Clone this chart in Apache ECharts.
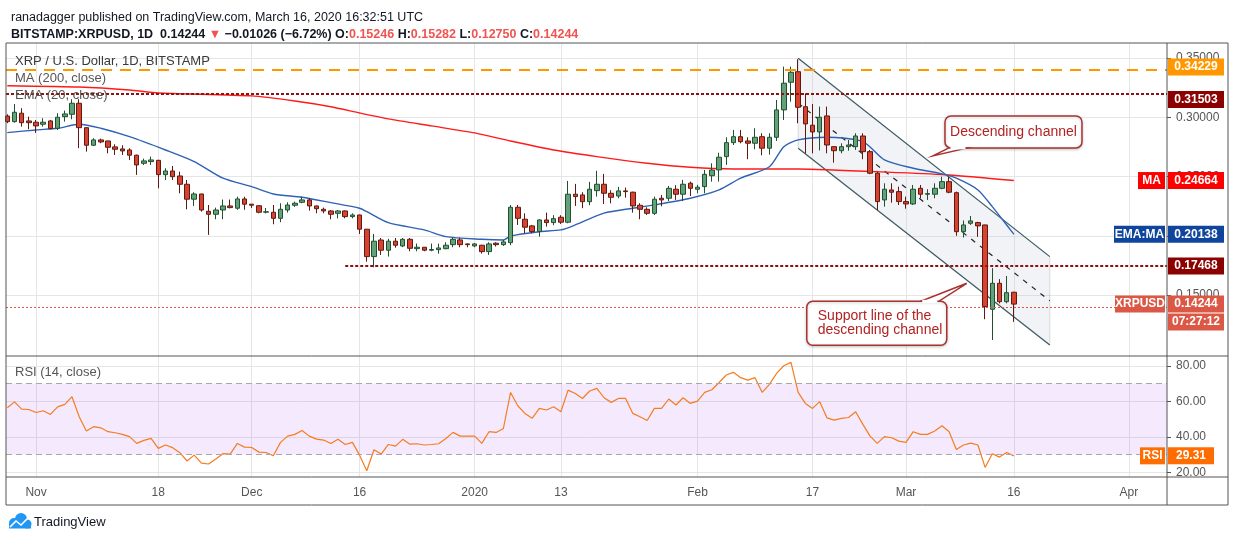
<!DOCTYPE html>
<html lang="en">
<head>
<meta charset="UTF-8">
<title>XRP / U.S. Dollar, 1D, BITSTAMP</title>
<script src="https://cdn.jsdelivr.net/npm/echarts@6.0.0/dist/echarts.min.js"></script>
<style>
  html, body { margin: 0; padding: 0; background: #fff; }
  #chart { width: 1234px; height: 541px; }
</style>
</head>
<body>
<div id="chart"></div>
<script>
// day 0 = 2019-10-28, one candle per day, day 140 = 2020-03-16
// [open, high, low, close]
var ohlc = [
  [0.3010, 0.3025, 0.2950, 0.2963], [0.2963, 0.3112, 0.2954, 0.3042], [0.3034, 0.3076, 0.2921, 0.2954],
  [0.2969, 0.3005, 0.2899, 0.2954], [0.2958, 0.2977, 0.2868, 0.2927], [0.2941, 0.2992, 0.2921, 0.2958],
  [0.2969, 0.2977, 0.2899, 0.2904], [0.2907, 0.3034, 0.2893, 0.3000], [0.3005, 0.3056, 0.2963, 0.3028],
  [0.3025, 0.3152, 0.2983, 0.3118], [0.3118, 0.3152, 0.2739, 0.2912], [0.2912, 0.2915, 0.2710, 0.2764],
  [0.2764, 0.2823, 0.2757, 0.2809], [0.2809, 0.2820, 0.2781, 0.2792], [0.2800, 0.2802, 0.2696, 0.2747],
  [0.2750, 0.2772, 0.2682, 0.2730], [0.2733, 0.2764, 0.2682, 0.2716], [0.2724, 0.2739, 0.2640, 0.2680],
  [0.2680, 0.2685, 0.2514, 0.2598], [0.2612, 0.2651, 0.2598, 0.2632], [0.2626, 0.2668, 0.2598, 0.2640],
  [0.2637, 0.2640, 0.2401, 0.2516], [0.2516, 0.2570, 0.2471, 0.2547], [0.2547, 0.2589, 0.2471, 0.2499],
  [0.2505, 0.2541, 0.2359, 0.2435], [0.2435, 0.2471, 0.2224, 0.2309], [0.2309, 0.2368, 0.2252, 0.2353],
  [0.2353, 0.2355, 0.2204, 0.2218], [0.2207, 0.2260, 0.2008, 0.2182], [0.2182, 0.2238, 0.2140, 0.2218],
  [0.2218, 0.2306, 0.2140, 0.2252], [0.2252, 0.2306, 0.2232, 0.2238], [0.2233, 0.2330, 0.2220, 0.2311],
  [0.2311, 0.2330, 0.2220, 0.2267], [0.2267, 0.2268, 0.2235, 0.2258], [0.2254, 0.2258, 0.2190, 0.2199],
  [0.2200, 0.2235, 0.2190, 0.2203], [0.2199, 0.2260, 0.2098, 0.2148], [0.2148, 0.2275, 0.2115, 0.2224],
  [0.2218, 0.2283, 0.2196, 0.2260], [0.2258, 0.2289, 0.2244, 0.2275], [0.2283, 0.2331, 0.2275, 0.2303],
  [0.2303, 0.2317, 0.2213, 0.2252], [0.2252, 0.2255, 0.2190, 0.2229], [0.2224, 0.2238, 0.2190, 0.2210],
  [0.2210, 0.2218, 0.2140, 0.2182], [0.2190, 0.2218, 0.2148, 0.2210], [0.2210, 0.2215, 0.2148, 0.2162],
  [0.2162, 0.2190, 0.2148, 0.2176], [0.2176, 0.2178, 0.2016, 0.2056], [0.2056, 0.2058, 0.1782, 0.1825],
  [0.1825, 0.2016, 0.1735, 0.1955], [0.1965, 0.1982, 0.1839, 0.1879], [0.1879, 0.1975, 0.1825, 0.1955],
  [0.1955, 0.1982, 0.1900, 0.1921], [0.1915, 0.1982, 0.1905, 0.1971], [0.1971, 0.1982, 0.1870, 0.1895],
  [0.1892, 0.1935, 0.1870, 0.1904], [0.1904, 0.1906, 0.1870, 0.1879], [0.1879, 0.1935, 0.1870, 0.1885],
  [0.1884, 0.1935, 0.1850, 0.1898], [0.1892, 0.1946, 0.1887, 0.1921], [0.1926, 0.1985, 0.1904, 0.1971],
  [0.1966, 0.1985, 0.1904, 0.1926], [0.1932, 0.1935, 0.1904, 0.1926], [0.1915, 0.1940, 0.1904, 0.1932],
  [0.1921, 0.1924, 0.1850, 0.1867], [0.1867, 0.1946, 0.1839, 0.1932], [0.1938, 0.1946, 0.1910, 0.1926],
  [0.1926, 0.1966, 0.1915, 0.1949], [0.1943, 0.2260, 0.1921, 0.2241], [0.2241, 0.2260, 0.2092, 0.2148],
  [0.2140, 0.2190, 0.2022, 0.2073], [0.2084, 0.2092, 0.2022, 0.2036], [0.2036, 0.2140, 0.1993, 0.2134],
  [0.2134, 0.2196, 0.2078, 0.2112], [0.2112, 0.2174, 0.2090, 0.2145], [0.2157, 0.2174, 0.2100, 0.2115],
  [0.2115, 0.2463, 0.2106, 0.2351], [0.2351, 0.2438, 0.2252, 0.2331], [0.2345, 0.2368, 0.2233, 0.2288],
  [0.2288, 0.2455, 0.2258, 0.2393], [0.2381, 0.2548, 0.2331, 0.2435], [0.2435, 0.2522, 0.2269, 0.2359],
  [0.2359, 0.2385, 0.2274, 0.2325], [0.2336, 0.2413, 0.2317, 0.2379], [0.2379, 0.2407, 0.2322, 0.2373],
  [0.2368, 0.2373, 0.2196, 0.2252], [0.2258, 0.2275, 0.2140, 0.2224], [0.2224, 0.2241, 0.2176, 0.2190],
  [0.2190, 0.2331, 0.2176, 0.2309], [0.2317, 0.2345, 0.2249, 0.2303], [0.2317, 0.2421, 0.2294, 0.2401],
  [0.2393, 0.2427, 0.2303, 0.2351], [0.2351, 0.2472, 0.2294, 0.2435], [0.2444, 0.2458, 0.2336, 0.2401],
  [0.2393, 0.2430, 0.2359, 0.2410], [0.2415, 0.2556, 0.2359, 0.2519], [0.2507, 0.2612, 0.2457, 0.2555],
  [0.2556, 0.2701, 0.2457, 0.2663], [0.2668, 0.2831, 0.2598, 0.2786], [0.2786, 0.2893, 0.2766, 0.2836],
  [0.2836, 0.2893, 0.2780, 0.2794], [0.2800, 0.2831, 0.2646, 0.2781], [0.2781, 0.2907, 0.2730, 0.2831],
  [0.2836, 0.2865, 0.2679, 0.2739], [0.2739, 0.2865, 0.2685, 0.2831], [0.2831, 0.3146, 0.2800, 0.3062],
  [0.3062, 0.3427, 0.2977, 0.3287], [0.3295, 0.3427, 0.3131, 0.3379], [0.3384, 0.3489, 0.2949, 0.3084],
  [0.3089, 0.3202, 0.2696, 0.2944], [0.2933, 0.3112, 0.2696, 0.2876], [0.2876, 0.3090, 0.2720, 0.3000],
  [0.3011, 0.3090, 0.2696, 0.2766], [0.2752, 0.2755, 0.2617, 0.2718], [0.2718, 0.2780, 0.2696, 0.2752],
  [0.2752, 0.2808, 0.2718, 0.2766], [0.2752, 0.2865, 0.2724, 0.2842], [0.2842, 0.2865, 0.2646, 0.2710],
  [0.2710, 0.2724, 0.2520, 0.2528], [0.2528, 0.2541, 0.2218, 0.2289], [0.2303, 0.2443, 0.2246, 0.2393],
  [0.2387, 0.2443, 0.2280, 0.2368], [0.2373, 0.2415, 0.2260, 0.2289], [0.2289, 0.2331, 0.2229, 0.2269],
  [0.2269, 0.2429, 0.2260, 0.2393], [0.2401, 0.2429, 0.2317, 0.2351], [0.2351, 0.2393, 0.2303, 0.2356],
  [0.2351, 0.2443, 0.2317, 0.2401], [0.2401, 0.2499, 0.2393, 0.2457], [0.2457, 0.2499, 0.2359, 0.2368],
  [0.2364, 0.2373, 0.2000, 0.2035], [0.2035, 0.2130, 0.1986, 0.2092], [0.2106, 0.2168, 0.2092, 0.2126],
  [0.2112, 0.2118, 0.1992, 0.2084], [0.2092, 0.2094, 0.1297, 0.1403], [0.1381, 0.1727, 0.1122, 0.1600],
  [0.1600, 0.1635, 0.1431, 0.1445], [0.1445, 0.1662, 0.1431, 0.1521], [0.15246, 0.15282, 0.12750, 0.14244]
];

var rsiValues = [
  56.4, 59.7, 55.6, 55.4, 53.7, 54.7, 52.6, 56.9, 58.3, 62.6,
  51.3, 43.3, 45.7, 45.1, 42.9, 42.3, 41.4, 40.1, 36.3, 38.0,
  39.1, 33.5, 35.4, 33.9, 31.1, 26.4, 29.7, 25.2, 24.7, 27.5,
  30.5, 30.3, 36.3, 34.2, 34.0, 31.4, 31.2, 29.4, 36.9, 40.4,
  41.4, 43.6, 40.4, 38.7, 38.2, 36.3, 38.7, 35.7, 36.9, 29.7,
  20.9, 32.7, 30.3, 35.7, 34.8, 38.6, 35.9, 36.1, 35.4, 35.7,
  36.1, 39.1, 42.5, 40.4, 40.4, 40.4, 36.3, 42.9, 42.5, 44.7,
  65.0, 57.5, 53.2, 50.4, 56.0, 55.1, 56.9, 54.1, 66.3, 64.4,
  61.6, 65.8, 67.3, 62.0, 59.4, 61.6, 61.6, 53.2, 51.3, 49.2,
  56.0, 56.0, 61.3, 57.9, 62.0, 58.8, 60.1, 65.0, 66.5, 70.6,
  74.8, 76.3, 73.3, 71.9, 73.3, 65.0, 69.5, 75.7, 80.0, 81.9,
  65.0, 58.8, 56.0, 59.8, 50.7, 49.4, 50.4, 50.9, 54.1, 47.0,
  40.4, 36.3, 40.1, 39.5, 37.6, 36.9, 42.9, 41.4, 41.4, 43.3,
  46.2, 42.9, 32.9, 35.4, 36.5, 35.4, 22.8, 30.5, 28.6, 31.2,
  29.31
];

// MA (200) and EMA (20) at sample days
var maDays   = [0, 10, 17, 21, 34, 40, 45, 49, 53, 59, 65, 70, 76, 82, 89, 95, 101, 110, 124, 131, 140];
var maValues = [0.3266, 0.3255, 0.3230, 0.3205, 0.3180, 0.3137, 0.3089, 0.3036, 0.2986, 0.2927, 0.2868,
                0.2800, 0.2724, 0.2668, 0.2612, 0.2578, 0.2564, 0.2564, 0.2533, 0.2513, 0.24664];
var emaDays   = [0, 4, 7, 10, 13, 17, 22, 26, 30, 34, 37, 41, 45, 49, 50, 53, 58, 61, 66, 69, 70, 74, 77,
                 79, 83, 87, 90, 95, 99, 102, 106, 108, 110, 114, 119, 122, 126, 130, 132, 135, 137, 140];
var emaValues = [0.2870, 0.2893, 0.2907, 0.2941, 0.2907, 0.2836, 0.2724, 0.2626, 0.2486, 0.2415, 0.2353,
                 0.2325, 0.2280, 0.2233, 0.2204, 0.2111, 0.2050, 0.1993, 0.1971, 0.1965, 0.1999, 0.2035,
                 0.2050, 0.2092, 0.2191, 0.2233, 0.2261, 0.2317, 0.2387, 0.2486, 0.2583, 0.2752, 0.2809,
                 0.2831, 0.2794, 0.2640, 0.2570, 0.2522, 0.2486, 0.2387, 0.2246, 0.20138];

var tickDays   = [4, 21, 34, 49, 65, 77, 96, 112, 125, 140, 156];
var tickLabels = ['Nov', '18', 'Dec', '16', '2020', '13', 'Feb', '17', 'Mar', '16', 'Apr'];
var priceTicks = [0.15, 0.20, 0.25, 0.30, 0.35];
var rsiTicks   = [20, 40, 60, 80];

// horizontal levels
var highLevel = 0.34229;
var resistLevel = 0.31503;
var supportLevel = 0.17468;
var supportStartDay = 47;
var lastClose = 0.14244;
var maLast = 0.24664;
var emaLast = 0.20138;
var rsiLast = 29.31;

// descending channel: [start day, end day], upper and lower prices
var channelDays = [110, 145];
var channelUpper = [0.3497, 0.1825];
var channelLower = [0.2739, 0.1080];

var FONT = '"Liberation Sans", Arial, sans-serif';
var X_MIN = -0.18, X_MAX = 161.3;
var P_MIN = 0.0987, P_MAX = 0.3626;
var R_MIN = 17.4, R_MAX = 85.5;
var GRID_L = 6, GRID_W = 1161, AXIS_X = 1167, FRAME_R = 1228;
var MAIN_T = 43, MAIN_H = 313, RSI_T = 356, RSI_H = 121, FRAME_B = 505;

var candleData = ohlc.map(function (r, i) { return [i, r[0], r[3], r[2], r[1]]; });
var rsiData = rsiValues.map(function (v, i) { return [i, v]; });
var maData = maDays.map(function (d, i) { return [d, maValues[i]]; });
var emaData = emaDays.map(function (d, i) { return [d, emaValues[i]]; });

function tag(value, text, color, w, side, dy) {
  return {
    coord: [X_MAX, value],
    symbol: 'rect',
    symbolSize: [w, 17],
    symbolOffset: [side > 0 ? w / 2 + 1 : -(w / 2 + 2), dy || 0],
    itemStyle: { color: color },
    label: {
      show: true, position: 'inside', formatter: text, color: '#fff',
      fontWeight: 'bold', fontSize: 12, fontFamily: FONT
    }
  };
}

function hline(value, color, width, dash) {
  return { yAxis: value, lineStyle: { color: color, width: width, type: dash } };
}

var gridLine = { show: true, lineStyle: { color: '#e6e6e6', width: 1 } };
var tickLabel = { color: '#555', fontSize: 12, fontFamily: FONT };

var option = {
  animation: false,
  backgroundColor: '#fff',
  textStyle: { fontFamily: FONT },
  title: [
    {
      text: 'ranadagger published on TradingView.com, March 16, 2020 16:32:51 UTC',
      left: 6, top: 6,
      textStyle: { fontSize: 12.5, fontWeight: 'normal', color: '#131722', fontFamily: FONT }
    },
    {
      text: '{b|BITSTAMP:XRPUSD, 1D}  {n|0.14244} {r|▼} {n|\u22120.01026 (\u22126.72%)} ' +
            '{b|O:}{r|0.15246} {b|H:}{r|0.15282} {b|L:}{r|0.12750} {b|C:}{r|0.14244}',
      left: 6, top: 23,
      textStyle: {
        fontSize: 12.5, color: '#131722', fontFamily: FONT,
        rich: {
          b: { fontSize: 12.5, fontWeight: 'bold', color: '#131722', fontFamily: FONT },
          n: { fontSize: 12.5, color: '#131722', fontFamily: FONT },
          r: { fontSize: 12.5, color: '#f05350', fontFamily: FONT }
        }
      }
    }
  ],
  grid: [
    { left: GRID_L, top: MAIN_T, width: GRID_W, height: MAIN_H },
    { left: GRID_L, top: RSI_T, width: GRID_W, height: RSI_H }
  ],
  xAxis: [
    {
      type: 'value', gridIndex: 0, min: X_MIN, max: X_MAX,
      axisLine: { show: false, onZero: false }, axisLabel: { show: false },
      axisTick: { show: false, customValues: tickDays },
      splitLine: gridLine
    },
    {
      type: 'value', gridIndex: 1, min: X_MIN, max: X_MAX,
      axisLine: { show: false, onZero: false },
      axisTick: { show: false, customValues: tickDays },
      axisLabel: {
        customValues: tickDays, margin: 10, color: '#555', fontSize: 12, fontFamily: FONT,
        formatter: function (v) { var i = tickDays.indexOf(v); return i >= 0 ? tickLabels[i] : ''; }
      },
      splitLine: gridLine
    }
  ],
  yAxis: [
    {
      type: 'value', gridIndex: 0, position: 'right', min: P_MIN, max: P_MAX,
      axisLine: { show: false, onZero: false },
      axisTick: { show: true, length: 4, customValues: priceTicks, lineStyle: { color: '#555' } },
      axisLabel: Object.assign({ customValues: priceTicks, margin: 9,
        formatter: function (v) { return v.toFixed(5); } }, tickLabel),
      splitLine: gridLine
    },
    {
      type: 'value', gridIndex: 1, position: 'right', min: R_MIN, max: R_MAX,
      axisLine: { show: false, onZero: false },
      axisTick: { show: true, length: 4, customValues: rsiTicks, lineStyle: { color: '#555' } },
      axisLabel: Object.assign({ customValues: rsiTicks, margin: 9,
        formatter: function (v) { return v.toFixed(2); } }, tickLabel),
      splitLine: gridLine
    }
  ],
  series: [
    {
      name: 'channel', type: 'custom', xAxisIndex: 0, yAxisIndex: 0, z: 1, silent: true,
      data: [[channelDays[0], channelUpper[0], channelDays[1], channelUpper[1], channelLower[1], channelLower[0]]],
      renderItem: function (params, api) {
        var a = api.coord([api.value(0), api.value(1)]);
        var b = api.coord([api.value(2), api.value(3)]);
        var c = api.coord([api.value(2), api.value(4)]);
        var d = api.coord([api.value(0), api.value(5)]);
        var m1 = [(a[0] + d[0]) / 2, (a[1] + d[1]) / 2];
        var m2 = [(b[0] + c[0]) / 2, (b[1] + c[1]) / 2];
        return {
          type: 'group',
          children: [
            { type: 'polygon', shape: { points: [a, b, c, d] },
              style: { fill: 'rgba(175, 185, 200, 0.17)', stroke: 'rgba(120,130,140,0.25)', lineWidth: 1 } },
            { type: 'line', shape: { x1: a[0], y1: a[1], x2: b[0], y2: b[1] },
              style: { stroke: '#3d5b63', lineWidth: 1.2 } },
            { type: 'line', shape: { x1: d[0], y1: d[1], x2: c[0], y2: c[1] },
              style: { stroke: '#3d5b63', lineWidth: 1.2 } },
            { type: 'line', shape: { x1: m1[0], y1: m1[1], x2: m2[0], y2: m2[1] },
              style: { stroke: '#222', lineWidth: 1.2, lineDash: [5, 6] } }
          ]
        };
      }
    },
    {
      name: 'MA (200, close)', type: 'line', xAxisIndex: 0, yAxisIndex: 0, z: 2,
      data: maData, showSymbol: false, smooth: 0.2,
      lineStyle: { color: '#ff1a1a', width: 1.4 }
    },
    {
      name: 'EMA (20, close)', type: 'line', xAxisIndex: 0, yAxisIndex: 0, z: 2,
      data: emaData, showSymbol: false, smooth: 0.25,
      lineStyle: { color: '#2f62b5', width: 1.4 }
    },
    {
      name: 'XRPUSD', type: 'candlestick', xAxisIndex: 0, yAxisIndex: 0, z: 3,
      data: candleData, encode: { x: 0, y: [1, 2, 3, 4] }, barWidth: 5,
      itemStyle: {
        color: '#62a27a', color0: '#d8432f',
        borderColor: '#22502f', borderColor0: '#5e1a12', borderWidth: 1
      },
      markLine: {
        silent: true, symbol: ['none', 'none'], label: { show: false },
        data: [
          hline(highLevel, '#ff9800', 2, [11, 8]),
          hline(resistLevel, '#8e1010', 2, [3, 2]),
          [
            { coord: [supportStartDay, supportLevel], lineStyle: { color: '#8e1010', width: 2, type: [3, 2] } },
            { coord: [X_MAX, supportLevel] }
          ],
          hline(lastClose, '#e0553f', 1, [2, 2])
        ]
      },
      markPoint: {
        silent: true,
        data: [
          tag(highLevel, '0.34229', '#ff9800', 56, 1),
          tag(resistLevel, '0.31503', '#8b0000', 56, 1),
          tag(maLast, '0.24664', '#ff0000', 56, 1),
          tag(maLast, 'MA', '#ff0000', 27, -1),
          tag(emaLast, '0.20138', '#0f459c', 56, 1),
          tag(emaLast, 'EMA:MA', '#0f459c', 51, -1),
          tag(supportLevel, '0.17468', '#8b0000', 56, 1),
          tag(lastClose, '0.14244', '#dc5846', 56, 1),
          tag(lastClose, 'XRPUSD', '#dc5846', 50, -1),
          tag(lastClose, '07:27:12', '#dc5846', 56, 1, 18)
        ]
      }
    },
    {
      name: 'RSI', type: 'line', xAxisIndex: 1, yAxisIndex: 1, z: 3,
      data: rsiData, showSymbol: false,
      lineStyle: { color: '#f57c1f', width: 1.2 },
      markArea: {
        silent: true,
        itemStyle: { color: 'rgba(160, 60, 240, 0.11)' },
        data: [[{ yAxis: 30 }, { yAxis: 70 }]]
      },
      markLine: {
        silent: true, symbol: ['none', 'none'], label: { show: false },
        data: [hline(70, '#a8a8a8', 1, [6, 4]), hline(30, '#a8a8a8', 1, [6, 4])]
      },
      markPoint: {
        silent: true,
        data: [
          tag(rsiLast, '29.31', '#ff6d00', 46, 1),
          tag(rsiLast, 'RSI', '#ff6d00', 25, -1)
        ]
      }
    }
  ]
};

var chart = echarts.init(document.getElementById('chart'));
chart.setOption(option);

// callout boxes anchored to data positions
var calloutChannel = { day: 128.75, price: 0.2674 };
var calloutSupport = { day: 133.45, price: 0.1600 };

function px(pt) { return chart.convertToPixel({ gridIndex: 0 }, [pt.day, pt.price]); }

var tip1 = px(calloutChannel);
var tip2 = px(calloutSupport);
var RED = '#a83232', TXT = '#b22222';

var b1 = { x: tip1[0] + 12, y: tip1[1] - 40, w: 137, h: 32 };
var b2 = { x: tip2[0] - 160, y: tip2[1] + 18, w: 140, h: 44 };

var graphics = [
  // pane frame
  { type: 'rect', z: 50, silent: true, shape: { x: GRID_L, y: MAIN_T, width: FRAME_R - GRID_L, height: FRAME_B - MAIN_T },
    style: { fill: 'none', stroke: '#555', lineWidth: 1 } },
  { type: 'line', z: 50, silent: true, shape: { x1: AXIS_X, y1: MAIN_T, x2: AXIS_X, y2: FRAME_B }, style: { stroke: '#555', lineWidth: 1 } },
  { type: 'line', z: 50, silent: true, shape: { x1: GRID_L, y1: RSI_T, x2: FRAME_R, y2: RSI_T }, style: { stroke: '#555', lineWidth: 1 } },
  { type: 'line', z: 50, silent: true, shape: { x1: GRID_L, y1: RSI_T + RSI_H, x2: FRAME_R, y2: RSI_T + RSI_H }, style: { stroke: '#555', lineWidth: 1 } },
  // pane legends
  { type: 'text', z: 50, silent: true, x: 15, y: 61, style: { text: 'XRP / U.S. Dollar, 1D, BITSTAMP', fill: '#3a3a3a', font: '13px ' + FONT, verticalAlign: 'middle' } },
  { type: 'text', z: 50, silent: true, x: 15, y: 78, style: { text: 'MA (200, close)', fill: '#555', font: '13px ' + FONT, verticalAlign: 'middle' } },
  { type: 'text', z: 50, silent: true, x: 15, y: 95, style: { text: 'EMA (20, close)', fill: '#555', font: '13px ' + FONT, verticalAlign: 'middle' } },
  { type: 'text', z: 50, silent: true, x: 15, y: 372, style: { text: 'RSI (14, close)', fill: '#555', font: '13px ' + FONT, verticalAlign: 'middle' } },
  // callout 1
  { type: 'rect', z: 60, silent: true, shape: { x: b1.x, y: b1.y, width: b1.w, height: b1.h, r: 6 },
    style: { fill: '#fff', stroke: RED, lineWidth: 1.5, shadowBlur: 3, shadowColor: 'rgba(0,0,0,0.2)', shadowOffsetY: 1 } },
  { type: 'polygon', z: 61, silent: true, shape: { points: [[b1.x + 4, b1.y + b1.h], tip1, [b1.x + 22, b1.y + b1.h]] },
    style: { fill: '#fff', stroke: RED, lineWidth: 1.5 } },
  { type: 'line', z: 62, silent: true, shape: { x1: b1.x + 5.5, y1: b1.y + b1.h, x2: b1.x + 20.5, y2: b1.y + b1.h },
    style: { stroke: '#fff', lineWidth: 3 } },
  { type: 'text', z: 63, silent: true, x: b1.x + b1.w / 2, y: b1.y + b1.h / 2,
    style: { text: 'Descending channel', fill: TXT, font: '14px ' + FONT, align: 'center', verticalAlign: 'middle' } },
  // callout 2
  { type: 'rect', z: 60, silent: true, shape: { x: b2.x, y: b2.y, width: b2.w, height: b2.h, r: 6 },
    style: { fill: '#fff', stroke: RED, lineWidth: 1.5, shadowBlur: 3, shadowColor: 'rgba(0,0,0,0.2)', shadowOffsetY: 1 } },
  { type: 'polygon', z: 61, silent: true, shape: { points: [[b2.x + b2.w - 26, b2.y], tip2, [b2.x + b2.w - 8, b2.y]] },
    style: { fill: '#fff', stroke: RED, lineWidth: 1.5 } },
  { type: 'line', z: 62, silent: true, shape: { x1: b2.x + b2.w - 24.5, y1: b2.y, x2: b2.x + b2.w - 9.5, y2: b2.y },
    style: { stroke: '#fff', lineWidth: 3 } },
  { type: 'text', z: 63, silent: true, x: b2.x + 11, y: b2.y + b2.h / 2,
    style: { text: 'Support line of the\ndescending channel', fill: TXT, font: '14px ' + FONT, lineHeight: 14, align: 'left', verticalAlign: 'middle' } },
  // logo
  { type: 'circle', z: 50, silent: true, shape: { cx: 14, cy: 523, r: 5 }, style: { fill: '#2196f3' } },
  { type: 'circle', z: 50, silent: true, shape: { cx: 21, cy: 519, r: 6 }, style: { fill: '#2196f3' } },
  { type: 'circle', z: 50, silent: true, shape: { cx: 27, cy: 524, r: 4.5 }, style: { fill: '#2196f3' } },
  { type: 'rect', z: 50, silent: true, shape: { x: 9, y: 523, width: 22, height: 5.5 }, style: { fill: '#2196f3' } },
  { type: 'polyline', z: 51, silent: true, shape: { points: [[10, 527], [16, 521], [21, 525], [29, 517]] },
    style: { stroke: '#fff', lineWidth: 1.6, fill: 'none' } },
  { type: 'text', z: 50, silent: true, x: 34, y: 522,
    style: { text: 'TradingView', fill: '#131722', font: '13px ' + FONT, verticalAlign: 'middle' } }
];

chart.setOption({ graphic: graphics });
</script>
</body>
</html>
